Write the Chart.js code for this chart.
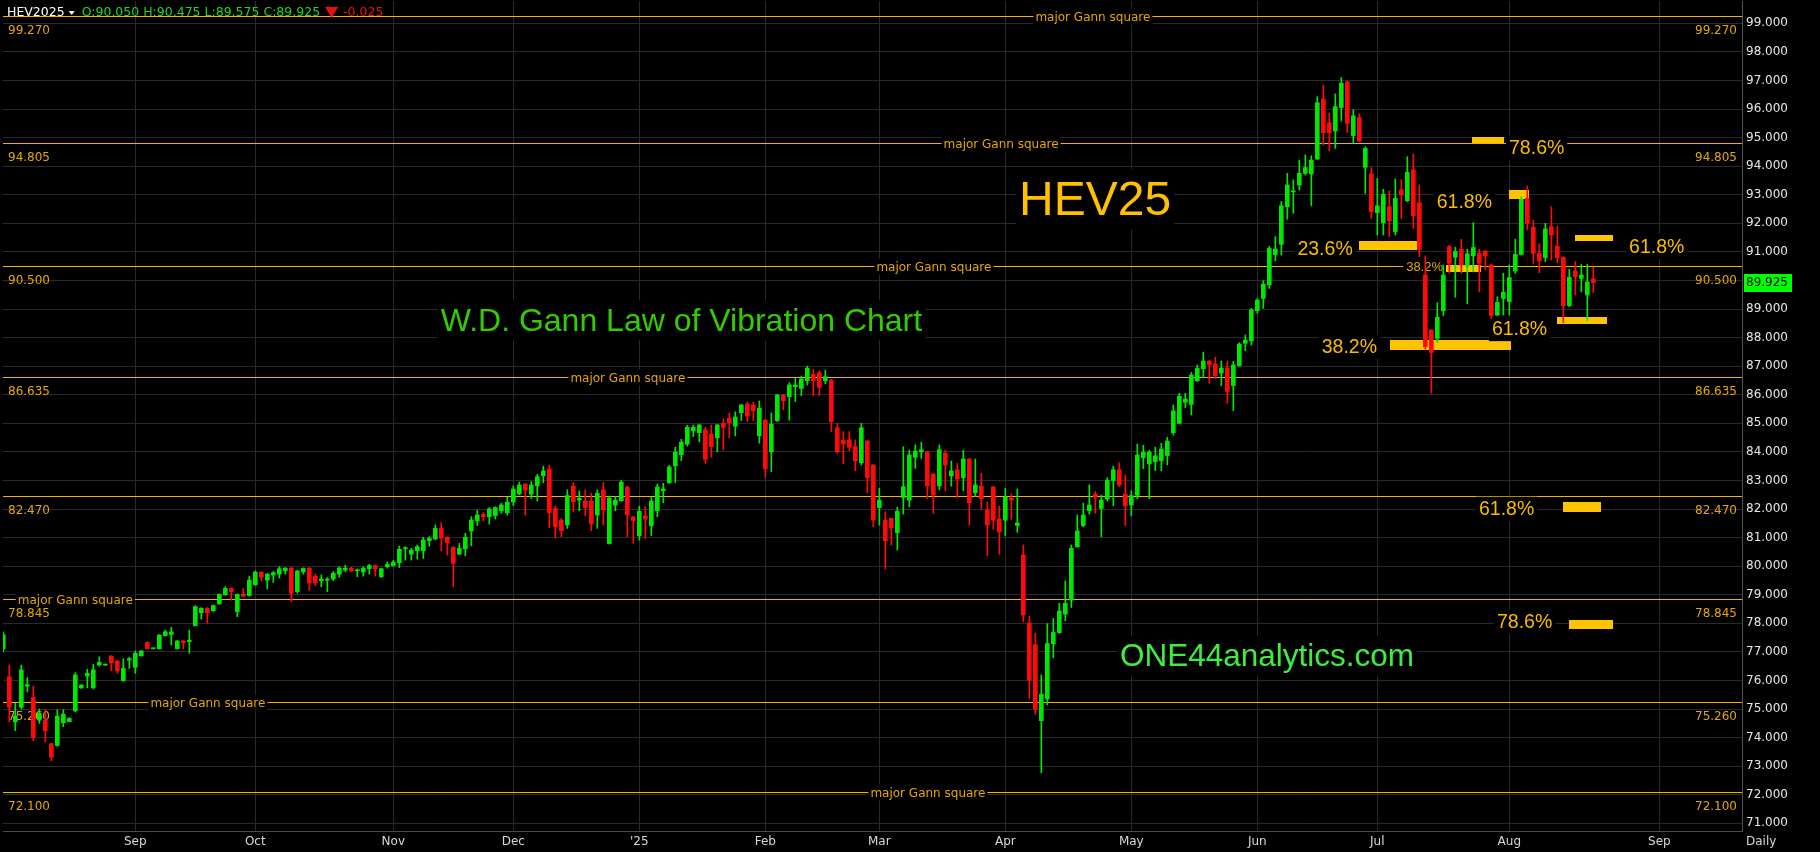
<!DOCTYPE html>
<html><head><meta charset="utf-8">
<script src="https://cdn.jsdelivr.net/npm/chart.js@4.4.1/dist/chart.umd.min.js"></script>
<style>html,body{margin:0;padding:0;background:#000;overflow:hidden}canvas{display:block}</style>
</head><body>
<canvas id="c" width="1820" height="852" style="width:1820px;height:852px"></canvas>
<script>
// ---------- DATA ----------
const opens = [
77.10,76.13,74.55,75.06,75.80,75.40,74.61,74.61,73.78,73.72,
74.52,74.56,74.94,75.74,76.15,75.74,76.54,76.54,76.85,76.68,
75.99,76.71,76.46,76.86,77.33,77.11,77.11,77.57,77.61,77.11,
77.38,77.36,77.92,78.37,78.52,78.44,78.68,79.00,79.22,78.41,
79.02,78.97,79.35,79.79,79.51,79.69,79.72,79.84,79.93,79.11,
79.80,79.93,79.65,79.49,79.51,79.55,79.72,79.86,79.93,79.84,
79.80,79.91,80.02,79.63,79.98,80.02,80.12,80.61,80.42,80.54,
80.54,80.89,80.95,81.32,81.01,80.66,80.42,80.60,81.23,81.58,
81.81,81.73,81.77,81.94,81.87,82.25,82.53,82.87,82.52,82.81,
83.17,83.40,82.02,81.61,81.44,82.80,82.31,82.28,82.28,81.79,
82.67,80.79,82.14,82.29,82.77,81.72,81.07,81.76,81.42,81.94,
82.64,82.92,83.51,83.90,84.27,84.74,84.67,84.77,84.62,84.49,
85.00,85.18,84.90,85.37,85.67,85.64,84.57,85.11,84.00,85.09,
85.99,85.93,86.28,86.22,86.49,86.71,86.77,86.49,86.51,84.84,
84.40,84.42,84.18,83.62,84.38,83.54,82.05,81.61,81.67,81.17,
82.40,82.31,83.81,84.00,84.00,83.22,82.81,83.95,83.16,83.37,
83.10,83.75,82.57,82.80,81.97,82.77,81.65,81.61,82.38,81.42,
80.39,78.01,77.25,74.59,75.35,77.28,77.67,78.32,78.81,80.68,
81.42,81.94,82.52,82.02,82.35,82.99,83.37,82.52,82.14,82.48,
83.80,83.58,83.66,83.69,83.87,84.67,85.00,85.74,85.66,86.49,
86.91,87.18,87.07,86.76,86.94,86.32,87.02,87.80,87.88,88.94,
89.37,89.84,90.91,91.26,92.58,93.10,93.34,93.75,93.73,94.25,
96.35,95.52,95.23,96.05,96.95,95.07,95.70,93.96,93.73,92.37,
92.02,92.58,91.71,93.17,92.79,93.87,92.72,90.19,88.26,87.97,
88.94,91.18,90.81,91.09,90.50,90.86,90.95,91.03,90.54,88.79,
89.37,89.26,90.33,90.91,92.87,91.86,90.95,90.80,91.88,91.20,
90.81,89.12,90.33,90.07,89.49,90.05];
const highs = [
77.70,76.54,75.20,76.54,76.10,75.80,75.00,74.97,73.80,74.97,
74.97,74.70,76.27,75.85,76.39,76.57,76.83,76.56,76.87,76.70,
76.76,76.81,77.03,77.05,77.35,77.13,77.60,77.76,77.86,77.40,
77.40,77.76,78.62,78.55,78.55,78.64,79.03,79.28,79.24,79.03,
79.22,79.65,79.83,79.81,79.74,79.81,79.98,79.95,79.95,79.85,
79.94,79.95,79.72,79.69,79.60,79.81,79.98,80.03,79.96,79.90,
79.98,80.06,80.04,79.93,80.15,80.20,80.70,80.68,80.62,80.74,
81.01,81.03,81.44,81.52,81.03,80.68,80.80,81.15,81.73,81.96,
81.87,82.05,82.08,82.20,82.41,82.81,82.94,82.89,82.96,83.21,
83.50,83.54,82.11,81.67,82.67,82.93,82.63,82.67,82.55,82.67,
82.93,82.45,82.43,83.01,82.79,81.74,82.10,82.08,82.40,82.87,
82.90,83.53,84.16,84.44,84.93,84.94,84.97,84.86,84.94,84.97,
85.15,85.36,85.40,85.66,85.74,85.74,85.78,85.13,85.36,86.01,
86.01,86.42,86.57,86.65,87.00,86.89,86.84,86.86,86.53,85.00,
84.71,84.71,84.42,85.00,84.40,83.56,82.72,81.90,81.69,82.06,
84.18,84.06,84.24,84.34,84.02,83.24,84.24,84.06,83.68,83.60,
84.06,83.77,83.75,83.25,82.25,82.79,82.10,82.72,82.52,82.70,
80.74,78.25,77.65,76.19,77.99,78.17,78.70,79.48,80.74,81.79,
82.20,82.84,82.61,82.49,83.10,83.50,83.62,83.19,82.63,84.27,
84.23,84.06,84.16,84.30,84.51,85.64,86.05,86.05,86.78,87.04,
87.49,87.20,87.31,87.18,87.18,87.17,87.82,88.09,89.02,89.37,
89.99,91.20,91.53,92.76,93.75,93.52,94.21,94.39,94.36,96.43,
96.84,95.85,96.53,97.10,96.97,95.97,95.83,94.68,93.95,93.57,
93.19,93.13,93.55,93.52,94.33,94.42,93.34,90.86,88.28,89.22,
90.54,91.24,91.16,91.44,91.09,92.02,91.09,91.05,90.56,89.43,
90.25,90.54,91.44,92.93,93.31,92.11,91.28,92.00,92.58,91.90,
90.83,90.39,90.66,90.56,90.56,90.475];
const lows = [
77.00,74.55,74.24,75.00,75.60,73.89,74.50,73.85,73.19,73.70,
74.38,74.55,74.90,75.72,75.74,75.70,76.50,76.52,76.34,76.25,
75.97,76.42,76.25,76.85,77.10,77.10,77.10,77.55,77.24,77.10,
77.11,76.95,77.90,78.14,78.00,78.42,78.66,78.98,78.81,78.23,
78.93,78.95,79.33,79.49,79.20,79.43,79.58,79.72,78.75,79.05,
79.72,79.16,79.32,79.28,79.11,79.49,79.61,79.81,79.81,79.63,
79.65,79.72,79.65,79.60,79.93,80.00,79.95,80.21,80.21,80.25,
80.27,80.70,80.93,80.54,80.39,79.28,80.40,80.36,80.71,81.42,
81.58,81.47,81.65,81.85,81.79,82.12,82.50,81.79,82.37,82.28,
82.92,81.34,80.99,81.03,81.32,81.90,81.94,81.76,81.24,81.32,
81.44,80.77,81.94,82.27,81.03,80.80,80.91,80.97,81.07,81.73,
82.22,82.90,82.92,83.69,84.20,84.53,84.35,83.60,83.81,84.00,
84.07,84.49,84.56,85.09,85.06,85.09,84.30,83.11,83.31,85.06,
85.47,85.11,85.76,85.97,86.34,85.97,85.97,86.38,84.71,83.95,
83.58,84.04,83.34,83.54,82.57,81.38,81.44,79.90,80.74,80.56,
81.82,82.08,83.42,83.77,82.37,81.85,82.67,82.64,82.80,82.40,
82.64,81.44,82.43,81.99,80.36,81.29,80.42,81.06,81.64,81.18,
78.05,75.37,74.82,72.77,75.14,76.79,77.65,78.09,78.55,80.66,
81.38,81.82,81.85,81.03,82.28,82.11,82.78,81.42,81.76,82.36,
83.41,82.36,83.34,83.34,83.54,84.59,84.98,85.55,85.29,86.46,
86.60,86.40,86.57,86.32,85.70,85.44,87.00,87.54,87.74,88.85,
89.02,89.72,90.69,90.89,92.14,92.35,93.17,93.69,92.61,94.23,
94.74,94.54,94.62,95.58,95.18,94.80,94.86,93.05,92.17,91.59,
91.59,91.53,91.59,92.17,92.76,91.82,90.83,87.59,86.05,87.82,
88.77,90.25,89.41,90.25,89.18,90.30,89.60,90.37,88.67,88.77,
88.79,88.79,90.25,90.89,91.77,90.60,90.27,90.66,90.71,90.62,
88.52,89.08,89.49,89.60,88.59,89.575];
const closes = [
77.60,75.06,74.76,76.37,75.85,74.00,74.85,74.24,73.31,74.75,
74.82,74.67,76.19,75.84,76.25,76.37,76.63,76.55,76.62,76.34,
76.42,76.76,76.95,77.03,77.11,77.12,77.59,77.70,77.70,77.38,
77.32,77.41,78.58,78.52,78.37,78.62,79.01,79.22,79.11,79.01,
78.95,79.51,79.79,79.61,79.72,79.77,79.91,79.93,79.05,79.83,
79.92,79.41,79.41,79.55,79.55,79.75,79.93,79.93,79.84,79.87,
79.93,80.02,79.91,79.91,80.06,80.14,80.59,80.64,80.56,80.68,
80.92,80.98,81.32,80.99,80.82,80.10,80.62,81.01,81.61,81.79,
81.73,82.00,82.05,82.14,82.24,82.70,82.84,82.66,82.84,83.13,
83.33,81.87,81.38,81.24,82.47,82.25,82.37,82.05,81.48,82.55,
81.97,82.38,82.31,82.94,81.80,81.59,81.92,81.65,82.28,82.77,
82.70,83.47,83.99,84.34,84.86,84.86,84.94,83.74,84.18,84.94,
84.86,85.02,85.22,85.64,85.25,85.44,85.53,83.41,84.97,85.99,
85.79,86.34,86.34,86.55,86.93,86.49,86.26,86.63,85.06,84.00,
84.28,84.16,83.69,84.84,83.10,81.61,82.31,80.89,81.34,81.92,
82.78,83.89,84.03,84.07,82.81,82.49,84.07,83.54,83.33,83.05,
83.75,82.22,82.84,82.36,81.44,81.61,81.20,82.42,82.31,81.51,
78.29,76.01,74.99,75.52,77.29,77.68,78.43,78.70,80.62,81.23,
81.79,82.14,82.41,82.31,83.01,83.37,82.84,82.11,82.47,83.89,
83.99,83.99,83.86,84.10,84.38,85.43,85.95,85.85,86.69,86.92,
87.18,87.04,86.67,86.93,86.11,87.04,87.77,87.91,88.97,89.31,
89.87,91.12,91.10,92.61,93.34,93.12,93.75,93.95,94.21,96.22,
95.17,95.17,96.08,96.90,95.50,95.76,94.88,94.62,92.41,92.61,
93.01,92.09,92.87,92.99,93.78,92.27,91.09,87.68,87.48,88.71,
90.19,90.60,91.01,90.54,90.93,91.15,90.60,90.86,88.77,89.23,
89.58,90.10,90.91,92.84,92.00,90.95,90.68,91.80,91.59,90.80,
89.12,90.11,90.13,90.19,89.95,89.925];

const monthTickIdx    = [22, 42, 65, 85, 106, 127, 146, 167, 188, 209, 229, 251, 276];
const monthTickLabels = ['Sep','Oct','Nov','Dec',"'25",'Feb','Mar','Apr','May','Jun','Jul','Aug','Sep'];
const priceTicks = [71,72,73,74,75,76,77,78,79,80,81,82,83,84,85,86,87,88,89,90,91,92,93,94,95,96,97,98,99];

const gannLevels   = [99.27, 94.805, 90.5, 86.635, 82.47, 78.845, 75.26, 72.1];
const gannLabelIdx = [181.6, 166.3, 155.1, 104.1, null, 12.0, 34.1, 154.1];

const fibBarStart = [225.9, 231.1, 240.3, 250.96, 244.8, 261.9, 258.9, 259.9, 260.9];
const fibBarEnd   = [235.6, 251.3, 246.3, 254.3, 250.1, 268.3, 267.3, 266.3, 268.3];
const fibBarLevel = [91.22, 87.74, 90.42, 93.01, 94.90, 91.50, 88.60, 82.07, 77.96];

const fibText      = ['23.6%','38.2%','38.2%','61.8%','78.6%','61.8%','61.8%','61.8%','78.6%'];
const fibTextIdx   = [224.9, 228.95, 239.95, 238.9, 250.95, 270.96, 248.1, 245.95, 248.95];
const fibTextLevel = [90.90, 87.46, 90.32, 92.55, 94.41, 90.96, 88.08, 81.78, 77.83];

const titleTexts  = ['HEV25', 'W.D. Gann Law of Vibration Chart', 'ONE44analytics.com'];
const titleIdx    = [169.3, 72.9, 186.1];
const titleLevel  = [92.29, 88.24, 76.51];

// ---------- STYLE ----------
const GREEN = '#00e800', RED = '#ff0a0a';
const fibBarHeight = [9, 10, 7, 9, 6, 6, 7, 10, 9];
const fibTextSize  = [19.5, 19.5, 13, 19.5, 19.5, 19.5, 19.5, 19.5, 19.5];
const fibTextAlign = ['right','right','right','left','left','left','left','left','left'];
const titleSize  = [48, 32, 31.5];
const titleColor = ['#ffc000', '#33cc00', '#3eee3e'];
const GANN_LINE = '#f5b300', GANN_TXT = '#e6a700', FIB_BAR = '#ffc400', FIB_TXT = '#f8bc00';
const AX = '"DejaVu Sans", sans-serif';
const SANS = '"Liberation Sans", Arial, sans-serif';

const idx = opens.map((_, i) => i);
const colors = idx.map(i => closes[i] >= opens[i] ? GREEN : RED);
const wickData = idx.map(i => ({x: i, y: [lows[i], highs[i]]}));
const bodyData = idx.map(i => ({x: i, y: [opens[i], closes[i]]}));

function boxedText(ctx, txt, px, base, size, color, align, family) {
  ctx.font = size + 'px ' + family;
  const w = ctx.measureText(txt).width;
  const left = align === 'right' ? px - w : px;
  ctx.fillStyle = '#000';
  ctx.fillRect(left - 3, base - size * 0.95, w + 6, size * 1.25);
  ctx.fillStyle = color;
  ctx.textAlign = 'left';
  ctx.textBaseline = 'alphabetic';
  ctx.fillText(txt, left, base);
}

const overlay = {
  id: 'overlay',
  beforeDraw(chart) {
    const c = chart.ctx; c.save(); c.fillStyle = '#000'; c.fillRect(0, 0, chart.width, chart.height); c.restore();
  },
  beforeDatasetsDraw(chart) {
    const {ctx, chartArea: a, scales: {x, y}} = chart;
    ctx.save();
    ctx.beginPath(); ctx.rect(a.left, 0, a.right - a.left, a.bottom); ctx.clip();
    ctx.strokeStyle = '#4a4a4a'; ctx.lineWidth = 1;
    ctx.beginPath(); ctx.moveTo(a.left - 0.5, 0); ctx.lineTo(a.left - 0.5, a.bottom); ctx.stroke();
    gannLevels.forEach((lv, j) => {
      const py = Math.round(y.getPixelForValue(lv)) + 0.5;
      ctx.strokeStyle = GANN_LINE; ctx.lineWidth = 1;
      ctx.beginPath(); ctx.moveTo(0, py); ctx.lineTo(a.right, py); ctx.stroke();
      ctx.font = '12px ' + AX; ctx.fillStyle = GANN_TXT; ctx.textBaseline = 'middle';
      ctx.textAlign = 'left'; ctx.fillText(lv.toFixed(3), a.left + 5, py + 14);
      ctx.textAlign = 'right'; ctx.fillText(lv.toFixed(3), a.right - 5, py + 14);
      if (gannLabelIdx[j] !== null) {
        const cx = x.getPixelForValue(gannLabelIdx[j]);
        const t = 'major Gann square';
        const w = ctx.measureText(t).width;
        ctx.fillStyle = '#000'; ctx.fillRect(cx - w / 2 - 2, py - 8, w + 4, 16);
        ctx.fillStyle = GANN_TXT; ctx.textAlign = 'center'; ctx.fillText(t, cx, py + 1);
      }
    });
    ctx.fillStyle = FIB_BAR;
    fibBarLevel.forEach((lv, j) => {
      const x0 = x.getPixelForValue(fibBarStart[j]), x1 = x.getPixelForValue(fibBarEnd[j]);
      const cy = y.getPixelForValue(lv), h = fibBarHeight[j];
      ctx.fillRect(Math.round(x0), Math.round(cy - h / 2), Math.round(x1 - x0), h);
    });
    fibText.forEach((t, j) => {
      boxedText(ctx, t, x.getPixelForValue(fibTextIdx[j]), y.getPixelForValue(fibTextLevel[j]),
        fibTextSize[j], j === 2 ? GANN_TXT : FIB_TXT, fibTextAlign[j], SANS);
    });
    titleTexts.forEach((t, j) => {
      boxedText(ctx, t, x.getPixelForValue(titleIdx[j]), y.getPixelForValue(titleLevel[j]),
        titleSize[j], titleColor[j], 'left', SANS);
    });
    ctx.restore();
  },
  afterDraw(chart) {
    const {ctx, chartArea: a, scales: {y}} = chart;
    const n = closes.length - 1;
    ctx.save();
    ctx.font = '12.5px ' + AX; ctx.textBaseline = 'middle'; ctx.textAlign = 'left';
    let xx = 7; const yy = 13;
    ctx.fillStyle = '#ffffff'; ctx.fillText('HEV2025', xx, yy); xx += ctx.measureText('HEV2025').width + 4;
    ctx.beginPath(); ctx.moveTo(xx, yy - 2); ctx.lineTo(xx + 6, yy - 2); ctx.lineTo(xx + 3, yy + 2); ctx.closePath(); ctx.fill();
    xx += 13;
    const ohlc = 'O:' + opens[n].toFixed(3) + ' H:' + highs[n].toFixed(3) + ' L:' + lows[n].toFixed(3) + ' C:' + closes[n].toFixed(3);
    ctx.fillStyle = '#1ed81e'; ctx.fillText(ohlc, xx, yy); xx += ctx.measureText(ohlc).width + 5;
    const chg = closes[n] - closes[n - 1];
    ctx.fillStyle = chg < 0 ? '#e81010' : '#1ed81e';
    ctx.beginPath(); ctx.moveTo(xx, yy - 6); ctx.lineTo(xx + 13, yy - 6); ctx.lineTo(xx + 6.5, yy + 5); ctx.closePath(); ctx.fill();
    xx += 18;
    ctx.fillText(chg.toFixed(3), xx, yy);
    const py = y.getPixelForValue(closes[n]);
    ctx.fillStyle = '#00ff00'; ctx.fillRect(a.right + 2, Math.round(py - 9), 48, 18);
    ctx.fillStyle = '#000'; ctx.font = '12px ' + AX; ctx.fillText(closes[n].toFixed(3), a.right + 4, py);
    ctx.fillStyle = '#d8d8d8'; ctx.fillText('Daily', a.right + 4, 842);
    ctx.restore();
  }
};

new Chart(document.getElementById('c').getContext('2d'), {
  type: 'bar',
  data: { datasets: [
    { data: wickData, backgroundColor: colors, barThickness: 1, grouped: false, borderWidth: 0 },
    { data: bodyData, backgroundColor: colors, barThickness: 4, grouped: false, minBarLength: 1, borderWidth: 0 }
  ]},
  options: {
    responsive: false, animation: false, devicePixelRatio: 1,
    layout: { padding: { left: 3, top: 1, right: 0, bottom: 0 } },
    plugins: { legend: { display: false }, tooltip: { enabled: false } },
    scales: {
      x: {
        type: 'linear', min: -0.05, max: 289.78, offset: false,
        afterBuildTicks: s => { s.ticks = monthTickIdx.map(v => ({ value: v })); },
        afterFit: s => { s.height = 21; s.paddingLeft = 0; s.paddingRight = 0; },
        ticks: { autoSkip: false, maxRotation: 0, minRotation: 0, padding: 4, color: '#d8d8d8',
          font: { family: 'DejaVu Sans', size: 12 },
          callback: v => { const j = monthTickIdx.indexOf(v); return j >= 0 ? monthTickLabels[j] : ''; } },
        grid: { color: '#2a2a2a', drawTicks: false, offset: false },
        border: { color: '#4a4a4a' }
      },
      y: {
        type: 'linear', position: 'right', min: 70.73, max: 99.78,
        afterBuildTicks: s => { s.ticks = priceTicks.map(v => ({ value: v })); },
        afterFit: s => { s.width = 78; s.paddingTop = 0; s.paddingBottom = 0; },
        ticks: { padding: 4, color: '#e6e6e6', font: { family: 'DejaVu Sans', size: 12 },
          callback: v => Number(v).toFixed(3) },
        grid: { color: '#2a2a2a', drawTicks: false },
        border: { color: '#555555' }
      }
    }
  },
  plugins: [overlay]
});
</script>
</body></html>
